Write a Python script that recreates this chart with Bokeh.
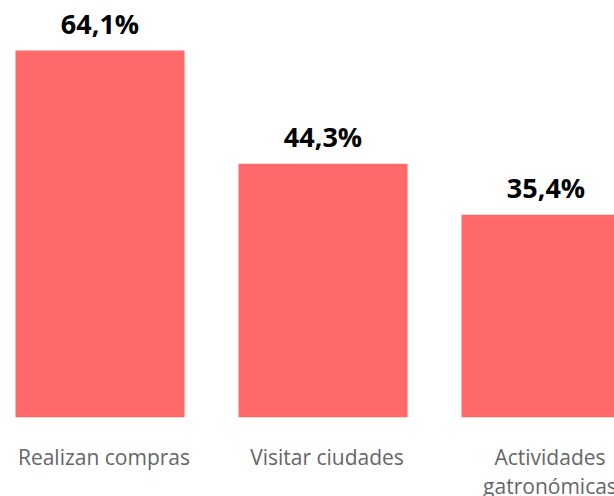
from bokeh.plotting import figure
from bokeh.models import ColumnDataSource, LabelSet, Range1d
from bokeh.core.properties import value
from bokeh.embed import file_html
from bokeh.resources import INLINE

categories = ["Realizan compras", "Visitar ciudades", "Actividades\ngatronómicas"]
values = [64.1, 44.3, 35.4]
value_labels = [f"{v:.1f}".replace(".", ",") + "%" for v in values]
positions = list(range(len(categories)))

cat_lines = [c.split("\n") for c in categories]
line1 = [l[0] for l in cat_lines]
line2 = [l[1] if len(l) > 1 else "" for l in cat_lines]

source = ColumnDataSource(data=dict(x=positions, val=values, lab=value_labels,
                                    l1=line1, l2=line2, zero=[0] * len(values)))

p = figure(width=614, height=496, output_backend="svg", toolbar_location=None,
           x_range=Range1d(-0.4462, 2.3072), y_range=Range1d(-13.86, 72.84),
           min_border=0, outline_line_color=None)
p.axis.visible = False
p.grid.visible = False
p.background_fill_color = "white"
p.border_fill_color = "white"

p.vbar(x="x", top="val", bottom=0, width=0.758, source=source,
       fill_color="#FF6969", line_color=None)

vals = LabelSet(x="x", y="val", text="lab", source=source, text_align="center",
                text_baseline="alphabetic", y_offset=17,
                text_font=value("Open Sans"), text_font_size="27px", text_font_style="bold",
                text_color="#000000")
p.add_layout(vals)

for col, off in (("l1", -26), ("l2", -55)):
    p.add_layout(LabelSet(x="x", y="zero", text=col, source=source, text_align="center",
                          text_baseline="top", y_offset=off, x_offset=4,
                          text_font=value("Open Sans"), text_font_size="21px",
                          text_color="#666666"))

open("out.html", "w").write(file_html(p, INLINE))
